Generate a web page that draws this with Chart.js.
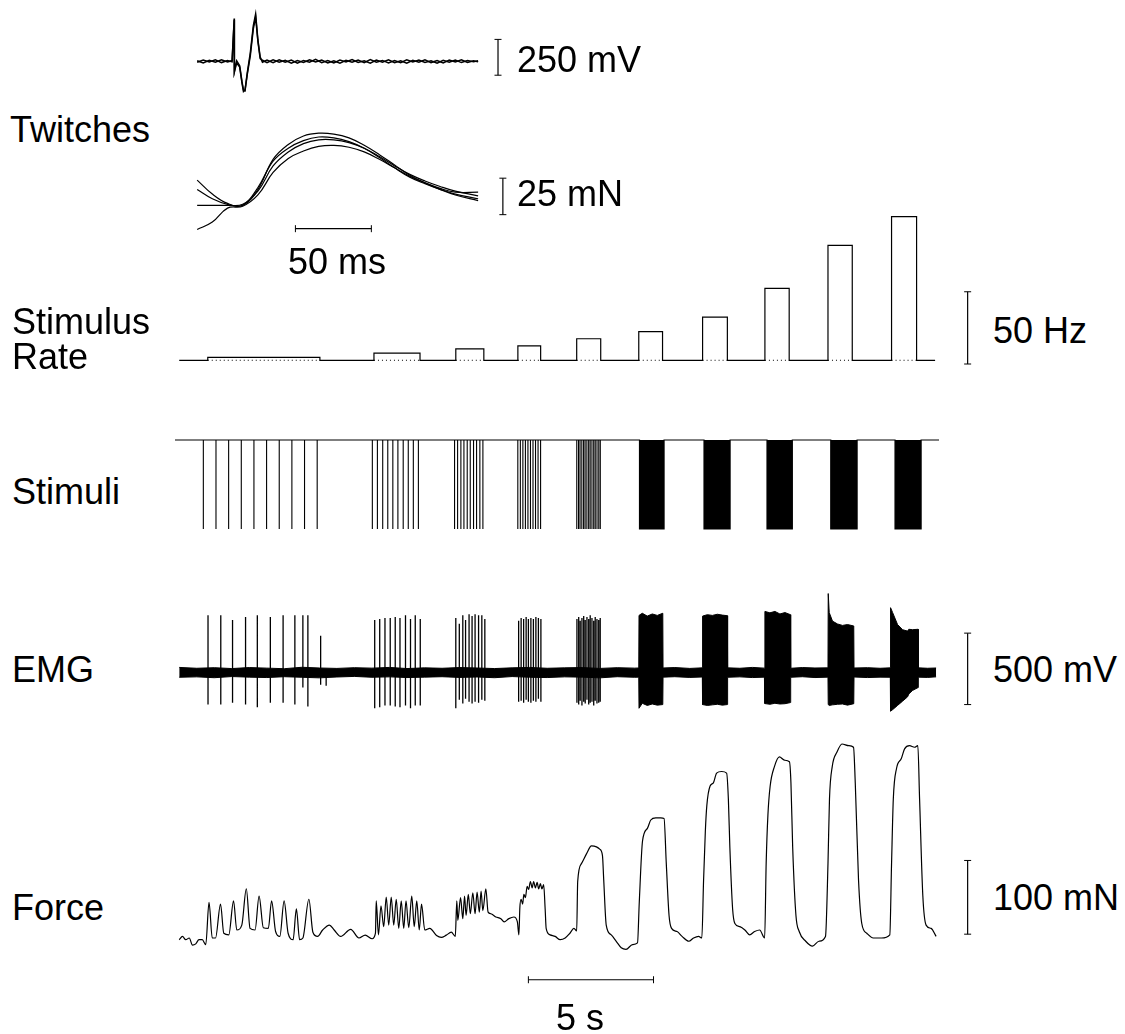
<!DOCTYPE html>
<html lang="en">
<head>
<meta charset="UTF-8">
<title>Twitches, stimulus rate, stimuli, EMG and force</title>
<script src="https://cdn.jsdelivr.net/npm/chart.js@4.4.1/dist/chart.umd.min.js"></script>
<style>
  body { margin:0; background:#fff; width:1125px; height:1034px; overflow:hidden; position:relative;
         font-family:"Liberation Sans", Arial, Helvetica, sans-serif; }
  canvas { position:absolute; }
  .lbl { position:absolute; font-size:36px; line-height:1; white-space:nowrap; color:#000; }
</style>
</head>
<body>
<!-- twitch panels (time in ms) -->
<canvas id="twEmg" width="340" height="110" style="left:180px;top:0px"></canvas>
<canvas id="twForce" width="340" height="140" style="left:180px;top:110px"></canvas>
<!-- main panels (time in s) -->
<canvas id="rate" width="840" height="185" style="left:150px;top:195px"></canvas>
<canvas id="stim" width="840" height="120" style="left:150px;top:425px"></canvas>
<canvas id="emg" width="840" height="150" style="left:150px;top:575px"></canvas>
<canvas id="force" width="840" height="300" style="left:150px;top:725px"></canvas>

<script>
// ---- twitches: superimposed single responses, ms ----
const twitchEmgT = [0,4,8,12,16,20,23,24.4,24.5,26,28,29.5,30.5,31.5,33,35,37,38.5,40,41.5,43,
  46,50,54,58,62,66,70,74,78,82,86,90,94,98,102,106,110,114,118,122,126,130,134,138,142,146,150,154,158,162,166,170,174,178,182,185];
const twitchEmg1 = [5,-10,8,-6,12,-4,6,300,-75,-10,-40,-150,-210,-200,-80,60,250,330,150,30,-5,
  10,-8,12,-6,9,-12,7,-5,14,-9,6,-11,10,-4,13,-7,5,-12,9,-6,11,-9,4,-13,8,-5,12,-8,6,-10,9,-4,11,-7,5,-3];
const twitchEmg2 = [-6,9,-4,11,-8,7,-3,290,-70,5,-30,-140,-200,-205,-90,40,230,310,140,20,8,
  -9,11,-5,8,-13,6,-7,12,-4,9,-10,5,-12,8,-6,10,-8,13,-5,7,-11,6,-9,12,-4,9,-7,5,-12,8,-5,10,-8,6,-3,4];

const twitchForceT = [0,10,20,30,40,50,60,70,80,90,100,110,120,130,140,150,160,170,185];
const twitchForce1 = [17.9,8.3,1.9,0.6,11.5,32.1,42.3,48.1,50.0,49.4,46.8,41.7,35.3,28.2,21.2,16.0,11.5,7.7,3.8];
const twitchForce2 = [11.5,5.1,1.3,0.6,12.8,30.8,39.7,44.9,47.4,46.8,44.2,39.7,33.3,26.3,19.9,15.4,11.5,8.3,5.1];
const twitchForce3 = [0.6,0.6,0.6,1.3,10.3,27.6,37.2,42.9,45.5,45.5,43.6,39.7,34.0,27.6,21.8,17.3,13.5,10.3,7.1];
const twitchForce4 = [-16.0,-10.9,-1.3,0,7.7,23.1,32.7,37.8,41.0,41.7,40.4,37.2,32.1,26.3,20.5,16.0,12.2,9.6,9.6];

// ---- stimulus trains, s ----
const rateOn  = [1.14, 7.78, 11.05, 13.53, 15.88, 18.36, 20.91, 23.40, 25.92, 28.46];
const rateOff = [5.62, 9.62, 12.17, 14.44, 16.84, 19.31, 21.90, 24.37, 26.89, 29.46];
const rateHz  = [2, 5, 8, 10, 15, 20, 30, 50, 80, 100];
const traceEnd = 30.2;

const stimT = [1.12,1.62,2.12,2.62,3.12,3.62,4.12,4.62,5.12,5.62,
  7.80,8.00,8.21,8.41,8.61,8.81,9.02,9.22,9.42,9.62,
  11.05,11.17,11.30,11.42,11.55,11.67,11.80,11.92,12.05,12.17,
  13.55,13.65,13.75,13.85,13.95,14.05,14.15,14.25,14.35,14.45,
  15.88,15.95,16.01,16.08,16.15,16.21,16.28,16.35,16.41,16.48,16.55,16.61,16.68,16.75,16.81];
// trains too dense to resolve single pulses
const stimBlockOn  = [18.36, 20.91, 23.40, 25.92, 28.46];
const stimBlockOff = [19.33, 21.94, 24.40, 26.96, 29.49];

// ---- EMG, mV ----
const emgSpikeT = [1.15,1.66,2.13,2.65,3.12,3.64,4.15,4.62,4.94,5.14,5.65,5.87,
  7.81,8.01,8.22,8.43,8.63,8.82,9.04,9.24,9.43,9.63,
  11.05,11.19,11.33,11.44,11.58,11.70,11.82,11.96,12.09,12.21,
  13.56,13.66,13.76,13.86,13.95,14.05,14.15,14.25,14.35,14.45,
  15.89,15.96,16.02,16.09,16.16,16.22,16.29,16.36,16.42,16.49,16.56,16.62,16.69,16.76,16.82];
const emgSpikeHi = [401,401,368,388,401,388,401,401,401,401,257,0,
  368,375,382,382,388,382,401,375,401,375,
  382,342,401,368,408,395,408,401,401,375,
  362,382,375,388,375,382,375,388,382,375,
  375,388,362,382,395,368,388,375,401,382,362,388,375,368,382];
const emgSpikeLo = [-224,-224,-211,-224,-243,-211,-211,-224,-105,-237,-86,-92,
  -250,-243,-230,-230,-237,-243,-230,-250,-230,-230,
  -250,-191,-217,-184,-204,-217,-204,-211,-191,-197,
  -204,-197,-211,-191,-204,-211,-197,-204,-184,-204,
  -211,-224,-197,-230,-204,-217,-191,-224,-211,-204,-230,-197,-217,-211,-204];

const emgEnvT = [0,0.7,1.4,2.1,2.8,3.5,4.2,4.9,5.6,6.3,7.0,7.7,8.4,9.1,9.8,10.5,11.2,11.9,12.6,13.3,14.0,14.7,15.4,16.1,16.8,17.5,18.2,18.36,
  18.37,18.5,18.7,18.9,19.1,19.32, 19.33,19.8,20.4,20.9,
  20.91,21.1,21.3,21.5,21.7,21.9, 21.91,22.4,22.9,23.38,
  23.4,23.6,23.8,24.0,24.2,24.42, 24.43,24.9,25.4,25.92,
  25.93,25.97,26.1,26.3,26.5,26.7,26.95, 26.96,27.5,28.0,28.41,
  28.42,28.5,28.7,28.9,29.1,29.15,29.3,29.52, 29.53,29.9,30.24];
const emgEnvHi = [36,30,34,28,35,31,27,37,32,29,34,31,36,28,33,30,35,32,28,33,36,30,33,35,29,34,31,32,
  400,415,395,410,400,415, 32,35,29,33,
  395,405,400,408,402,398, 33,30,36,31,
  428,418,428,410,420,405, 30,35,32,33,
  553,420,360,340,330,336,326, 32,34,30,33,
  454,421,336,300,290,303,300,303, 33,30,32];
const emgEnvLo = [-33,-30,-36,-28,-32,-35,-29,-33,-37,-31,-27,-33,-30,-35,-32,-29,-34,-31,-36,-28,-33,-35,-30,-32,-37,-29,-33,-32,
  -250,-215,-230,-220,-228,-224, -32,-29,-34,-31,
  -224,-230,-226,-222,-228,-224, -33,-30,-35,-32,
  -217,-222,-215,-220,-218,-210, -33,-29,-35,-32,
  -224,-230,-226,-222,-220,-228,-218, -31,-35,-32,-33,
  -270,-260,-230,-200,-170,-150,-125,-105, -32,-34,-30];

// ---- force, mN ----
const forceT = [0.00,0.13,0.26,0.40,0.53,0.66,0.79,0.92,1.06,1.19,1.32,1.45,1.65,1.78,1.98,2.17,2.30,2.50,2.68,2.83,
  3.03,3.19,3.36,3.56,3.69,3.85,4.02,4.19,4.35,4.55,4.68,4.81,4.94,5.18,5.34,5.53,5.73,6.00,6.19,6.45,6.85,7.18,7.43,7.71,7.84,
  7.87,7.96,8.06,8.17,8.27,8.37,8.47,8.57,8.67,8.77,8.87,8.97,9.06,9.17,9.29,9.39,9.49,9.59,9.68,9.81,10.01,10.28,10.47,10.67,10.87,11.03,
  11.09,11.13,11.24,11.33,11.40,11.46,11.55,11.63,11.73,11.82,11.90,11.99,12.06,12.13,12.25,12.34,12.45,12.65,12.85,12.98,13.17,13.37,13.51,13.57,
  13.61,13.66,13.72,13.77,13.83,13.90,13.96,14.03,14.10,14.16,14.23,14.30,14.36,14.43,14.49,14.56,14.62,14.66,14.82,15.02,15.22,15.42,15.61,15.77,15.88,
  15.92,16.07,16.27,16.47,16.67,16.80,16.91,16.96,17.06,17.26,17.46,17.66,17.85,18.11,18.31,
  18.38,18.51,18.71,18.84,19.04,19.24,19.37,19.46,19.57,19.67,19.89,20.09,20.36,20.55,20.75,20.88,
  20.95,21.02,21.08,21.21,21.34,21.47,21.67,21.87,21.94,22.00,22.11,22.20,22.40,22.60,22.79,22.99,23.19,23.39,
  23.45,23.52,23.61,23.78,23.98,24.18,24.38,24.44,24.51,24.64,24.77,25.03,25.30,25.56,25.82,
  25.92,25.98,26.09,26.28,26.48,26.75,26.94,27.01,27.14,27.27,27.47,27.73,28.06,28.39,
  28.46,28.53,28.66,28.85,28.98,29.18,29.38,29.51,29.58,29.71,29.84,30.04,30.24];
const forceMN = [10.9,15.4,10.9,13.2,3.6,5.3,10.9,10.9,4.3,61.5,13.2,13.2,59.2,19.7,17.5,63.6,24.1,30.7,79.9,26.3,
  24.1,70.1,27.2,26.3,63.6,22.0,15.4,63.6,19.7,10.9,52.6,10.9,13.2,65.8,21.1,15.4,24.1,30.7,24.1,15.4,25.0,13.2,17.1,12.2,19.7,
  63.6,17.5,57.0,28.6,68.8,30.7,68.8,30.7,65.8,26.3,63.6,26.3,63.6,27.2,70.1,28.6,63.6,24.1,59.2,24.1,26.3,16.7,14.1,17.1,21.1,15.4,
  63.6,37.2,68.0,39.5,70.1,43.8,72.4,46.1,74.6,46.1,75.4,48.3,76.7,50.4,79.9,48.3,46.1,41.7,39.5,35.1,39.5,41.7,35.1,17.5,
  54.9,65.8,59.2,72.4,68.0,83.3,79.0,89.9,81.2,89.9,81.2,88.6,79.9,86.9,79.9,85.5,52.6,26.3,17.5,15.4,10.9,13.2,19.7,26.3,22.8,
  89.9,114.1,127.3,138.2,136.9,133.8,125.0,92.1,30.7,17.5,8.8,0,-2.2,4.3,6.6,
  61.5,144.8,162.3,173.3,176.3,176.3,175.4,114.1,43.8,26.3,22.0,15.4,8.8,13.2,15.4,13.2,
  92.1,157.9,193.1,219.4,223.7,236.9,239.1,236.9,201.7,135.9,52.6,32.9,28.6,24.1,17.5,22.0,24.1,13.2,
  114.1,179.9,219.4,245.7,258.9,254.4,252.3,223.7,135.9,43.8,22.0,8.8,2.2,8.8,15.4,
  114.1,201.7,245.7,265.4,276.4,274.1,272.0,223.7,92.1,32.9,19.7,13.2,13.2,17.5,
  114.1,201.7,243.5,256.6,269.8,274.1,272.0,274.1,201.7,70.1,30.7,26.3,15.4];

// ---- helpers ----
const xy = (xs, ys) => xs.map((x, i) => ({x: x, y: ys[i]}));

function trace(data, extra) {
  return Object.assign({data: data, borderColor: '#000', borderWidth: 1.2, pointRadius: 0,
    tension: 0, fill: false}, extra || {});
}
// calibration bar with small end ticks
function calBar(pts, rot) {
  return {data: pts, borderColor: '#000', borderWidth: 1.2, pointStyle: 'line', pointRadius: 3.5,
    rotation: rot, pointBorderColor: '#000', pointBorderWidth: 1, pointHoverRadius: 0, fill: false};
}
// canvas pixel position -> axis range, so every panel lines up with the page
function panel(id, xZero, xPx, yZero, yPx, datasets) {
  const cv = document.getElementById(id);
  const left = parseFloat(cv.style.left), top = parseFloat(cv.style.top);
  return new Chart(cv, {
    type: 'line',
    data: {datasets: datasets},
    options: {
      responsive: false, animation: false, events: [],
      layout: {padding: 0},
      plugins: {legend: {display: false}, tooltip: {enabled: false}},
      scales: {
        x: {type: 'linear', display: false, min: (left - xZero) / xPx, max: (left + cv.width - xZero) / xPx},
        y: {type: 'linear', display: false, min: (yZero - top - cv.height) / yPx, max: (yZero - top) / yPx}
      }
    }
  });
}

const T0 = 175, PX_S = 25.3;     // main time axis
const TW0 = 193, PX_MS = 1.56;   // twitch time axis

// twitch EMG
panel('twEmg', TW0, PX_MS, 62, 0.156, [
  trace(xy(twitchEmgT, twitchEmg1), {borderWidth: 1.5}),
  trace(xy(twitchEmgT, twitchEmg2), {borderWidth: 1.5}),
  calBar([{x: 198.1, y: 153.8}, {x: 198.1, y: -96.2}], 0)
]);

// twitch force
panel('twForce', TW0, PX_MS, 208, 1.56, [
  trace(xy(twitchForceT, twitchForce1), {tension: 0.4}),
  trace(xy(twitchForceT, twitchForce2), {tension: 0.4}),
  trace(xy(twitchForceT, twitchForce3), {tension: 0.4}),
  trace(xy(twitchForceT, twitchForce4), {tension: 0.4}),
  calBar([{x: 201.3, y: 19.2}, {x: 201.3, y: -5.8}], 0),
  calBar([{x: 64.7, y: -15.4}, {x: 114.7, y: -15.4}], 90)
]);

// stimulus rate
const ratePts = [{x: 0, y: 0}];
const rateDots = [];
rateHz.forEach((hz, i) => {
  ratePts.push({x: rateOn[i], y: 0}, {x: rateOn[i], y: hz}, {x: rateOff[i], y: hz}, {x: rateOff[i], y: 0});
  rateDots.push({x: rateOn[i], y: 0}, {x: rateOff[i], y: 0}, {x: rateOff[i], y: null});
});
ratePts.push({x: traceEnd, y: 0});
panel('rate', T0, PX_S, 364, 1.51, [
  trace(ratePts),
  trace(rateDots, {borderWidth: 1, borderDash: [1, 3], borderColor: '#000'}),
  calBar([{x: 31.5, y: 47.7}, {x: 31.5, y: -2.6}], 0)
]);

// stimuli
const stimLine = [{x: 0, y: 0}];
stimBlockOn.forEach((on, i) => {
  stimLine.push({x: on, y: 0}, {x: on, y: -1}, {x: stimBlockOff[i], y: -1}, {x: stimBlockOff[i], y: 0});
});
stimLine.push({x: traceEnd, y: 0});
const stimPulses = [];
stimT.forEach(t => stimPulses.push({x: t, y: 0}, {x: t, y: -1}, {x: t, y: null}));
panel('stim', T0, PX_S, 440, 89, [
  trace(stimLine, {fill: 'origin', backgroundColor: '#000'}),
  trace(stimPulses, {borderWidth: 1.1})
]);

// EMG
const emgSpikes = [];
emgSpikeT.forEach((t, i) => emgSpikes.push({x: t, y: emgSpikeHi[i]}, {x: t, y: emgSpikeLo[i]}, {x: t, y: null}));
panel('emg', T0, PX_S, 674, 0.152, [
  trace(xy(emgEnvT, emgEnvHi), {fill: '+1', backgroundColor: '#000', borderWidth: 1}),
  trace(xy(emgEnvT, emgEnvLo), {borderWidth: 1}),
  trace(emgSpikes, {borderWidth: 1.3}),
  calBar([{x: 31.5, y: 276}, {x: 31.5, y: -224}], 0)
]);

// force
panel('force', T0, PX_S, 950, 0.76, [
  trace(xy(forceT, forceMN), {cubicInterpolationMode: 'monotone'}),
  calBar([{x: 31.5, y: 118.4}, {x: 31.5, y: 18.4}], 0),
  calBar([{x: 13.95, y: -43.4}, {x: 18.95, y: -43.4}], 90)
]);

// labels
const labels = [
  ['Twitches', 10, 130], ['250 mV', 517, 60], ['25 mN', 517, 194], ['50 ms', 288, 262],
  ['Stimulus', 12, 322], ['Rate', 12, 357], ['50 Hz', 993, 331], ['Stimuli', 12, 492],
  ['EMG', 12, 670], ['500 mV', 993, 670], ['Force', 12, 908], ['100 mN', 993, 898], ['5 s', 556, 1018]
];
labels.forEach(([txt, x, cy]) => {
  const d = document.createElement('div');
  d.className = 'lbl';
  d.textContent = txt;
  d.style.left = x + 'px';
  d.style.top = (cy - 0.49 * 36) + 'px';
  document.body.appendChild(d);
});
</script>
</body>
</html>
